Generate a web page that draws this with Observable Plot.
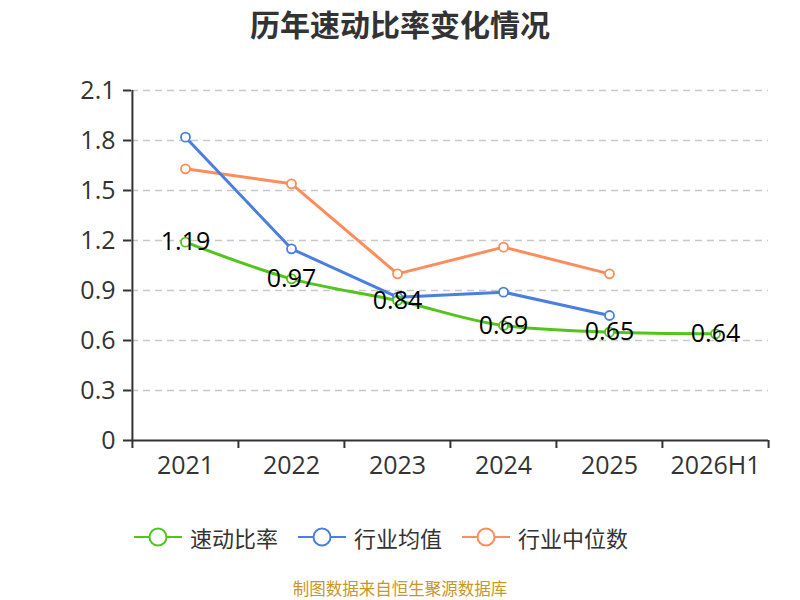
<!DOCTYPE html>
<html>
<head>
<meta charset="utf-8">
<script src="https://cdn.jsdelivr.net/npm/d3@7"></script>
<script src="https://cdn.jsdelivr.net/npm/@observablehq/plot@0.6"></script>
<style>
  html, body { margin: 0; padding: 0; background: #fff; }
  body { width: 800px; height: 600px; overflow: hidden; font-family: "Open Sans", "Noto Sans CJK SC", sans-serif; }
  #title { height: 50px; line-height: 46px; text-align: center; font-family: "Noto Sans CJK SC", sans-serif; font-weight: bold; font-size: 30px; color: #333; }
  #chart { height: 440px; }
  #legend { margin-top: 32px; height: 30px; display: flex; justify-content: center; align-items: center; gap: 20px; padding-right: 38px; font-family: "Noto Sans CJK SC", sans-serif; font-size: 22px; color: #333; }
  .item { display: flex; align-items: center; gap: 8px; }
  #caption { margin-top: 24px; text-align: center; font-family: "Noto Sans CJK SC", sans-serif; font-size: 16.5px; color: #c8962a; }
</style>
</head>
<body>
<div id="title">历年速动比率变化情况</div>
<div id="chart"></div>
<div id="legend"></div>
<div id="caption">制图数据来自恒生聚源数据库</div>
<script>
const categories = ["2021", "2022", "2023", "2024", "2025", "2026H1"];
const quickRatio = [1.19, 0.97, 0.84, 0.69, 0.65, 0.64];
const industryMean = [1.82, 1.15, 0.86, 0.89, 0.75];
const industryMedian = [1.63, 1.54, 1.00, 1.16, 1.00];
const yTicks = [0, 0.3, 0.6, 0.9, 1.2, 1.5, 1.8, 2.1];
const yTickLabels = ["0", "0.3", "0.6", "0.9", "1.2", "1.5", "1.8", "2.1"];
const seriesNames = ["速动比率", "行业均值", "行业中位数"];
const seriesColors = ["#52c41a", "#4a7fe0", "#ff8c5a"];

const toRows = (vals, s) => vals.map((v, i) => ({cat: categories[i], value: v, series: s}));
const rowsQ = toRows(quickRatio, seriesNames[0]);
const rowsM = toRows(industryMean, seriesNames[1]);
const rowsD = toRows(industryMedian, seriesNames[2]);

const W = 800, H = 440, mL = 131, mR = 32, mT = 40, mB = 50;
const step = (W - mL - mR) / categories.length;

const plot = Plot.plot({
  width: W, height: H,
  marginLeft: mL, marginRight: mR, marginTop: mT, marginBottom: mB,
  style: {fontFamily: "'Open Sans', 'Noto Sans CJK SC', sans-serif", fontSize: "25px", color: "#333", background: "#fff"},
  x: {type: "band", domain: categories, padding: 0},
  y: {domain: [0, 2.1]},
  marks: [
    Plot.gridY(yTicks.filter(d => d > 0), {stroke: "#c8c8c8", strokeOpacity: 1, strokeWidth: 1.5, strokeDasharray: "7,5"}),
    Plot.axisY({ticks: yTicks, tickFormat: d => yTickLabels[yTicks.indexOf(d)], tickSize: 8, tickPadding: 8, fontSize: 25, stroke: "#333", strokeWidth: 2, label: null}),
    Plot.axisX({tickSize: 0, tickPadding: 16, fontSize: 25, label: null}),
    Plot.ruleY([0], {stroke: "#333", strokeWidth: 2}),
    Plot.ruleX([categories[0]], {x: d => d, y1: 0, y2: 2.1, dx: -step / 2, stroke: "#333", strokeWidth: 2}),
    Plot.ruleX(categories, {x: d => d, y1: 0, y2: 0, insetBottom: -8, dx: -step / 2, stroke: "#333", strokeWidth: 2}),
    Plot.ruleX([categories[categories.length - 1]], {x: d => d, y1: 0, y2: 0, insetBottom: -8, dx: step / 2, stroke: "#333", strokeWidth: 2}),
    Plot.line(rowsD, {x: "cat", y: "value", stroke: seriesColors[2], strokeWidth: 3}),
    Plot.line(rowsM, {x: "cat", y: "value", stroke: seriesColors[1], strokeWidth: 3}),
    Plot.line(rowsQ, {x: "cat", y: "value", stroke: seriesColors[0], strokeWidth: 3, curve: "monotone-x"}),
    Plot.dot(rowsD, {x: "cat", y: "value", r: 4.5, fill: "#fff", stroke: seriesColors[2], strokeWidth: 1.8}),
    Plot.dot(rowsM, {x: "cat", y: "value", r: 4.5, fill: "#fff", stroke: seriesColors[1], strokeWidth: 1.8}),
    Plot.dot(rowsQ, {x: "cat", y: "value", r: 4.5, fill: "#fff", stroke: seriesColors[0], strokeWidth: 1.8}),
    Plot.text(rowsQ, {x: "cat", y: "value", text: d => d.value.toFixed(2), fill: "#000", fontSize: 25, dy: 0})
  ]
});
document.getElementById("chart").appendChild(plot);

const legend = document.getElementById("legend");
seriesNames.forEach((name, i) => {
  const item = document.createElement("div");
  item.className = "item";
  item.innerHTML = `<svg width="48" height="22"><line x1="0" y1="11" x2="48" y2="11" stroke="${seriesColors[i]}" stroke-width="2"/><circle cx="24" cy="11" r="8.5" fill="#fff" stroke="${seriesColors[i]}" stroke-width="2"/></svg><span>${name}</span>`;
  legend.appendChild(item);
});
</script>
</body>
</html>
